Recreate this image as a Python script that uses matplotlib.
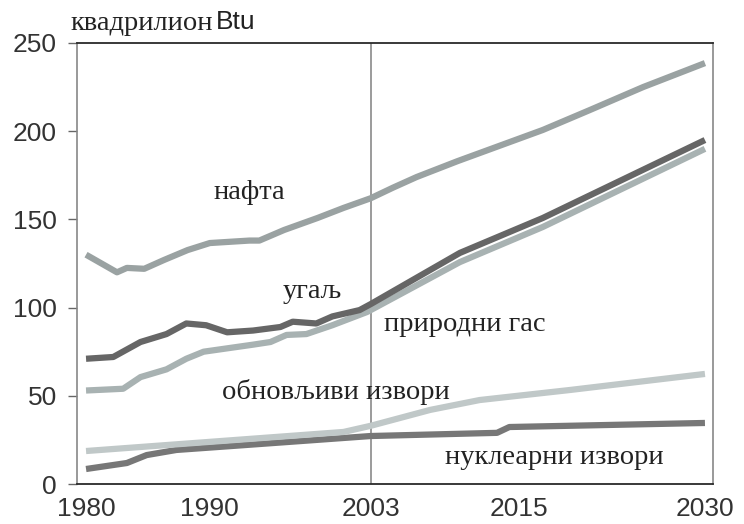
import matplotlib
matplotlib.use("Agg")
import matplotlib.pyplot as plt

# data (quadrillion Btu)
oil_years = [1980, 1982.5, 1983.3, 1984.7, 1986.3, 1988.2, 1990, 1993.2, 1994, 1996, 1998.7, 2000.8, 2003,
             2004.8, 2006.7, 2010, 2016.9, 2020.7, 2025, 2030]
oil = [130, 120, 122.5, 122, 127, 132.6, 136.6, 138, 138, 144, 150.8, 156.5, 162,
       168, 174, 183, 200.7, 212, 225, 238.6]

coal_years = [1980, 1982.2, 1984.4, 1986.5, 1988.1, 1989.7, 1991.4, 1993.5, 1995.7, 1996.7, 1998.6, 1999.9,
              2002.1, 2003, 2010.2, 2016.9, 2030]
coal = [71, 72, 80.5, 85, 91, 90, 86, 87, 89, 92, 91, 95, 98.6, 102, 131, 150.8, 195]

gas_years = [1980, 1983, 1984.4, 1986.5, 1988.1, 1989.5, 1993.5, 1994.9, 1996.2, 1997.8, 1999.9, 2002.7,
             2003, 2010.2, 2016.9, 2030]
gas = [53, 54, 60.6, 65, 71, 75, 79, 80.5, 84.5, 85, 90, 97.5, 98.6, 125.8, 145.7, 190]

renew_years = [1980, 2000.8, 2003, 2007.8, 2011.8, 2019.1, 2030]
renew = [18.7, 29.5, 33, 42, 47.6, 53.3, 62.4]

nuc_years = [1980, 1983.3, 1984.9, 1987.3, 1992.7, 2003, 2013.2, 2014.2, 2030]
nuclear = [8.5, 11.9, 16.4, 19.3, 22, 27.2, 29, 32.3, 34.6]

xticks = [1980, 1990, 2003, 2015, 2030]
yticks = [0, 50, 100, 150, 200, 250]

fig = plt.figure(figsize=(7.44, 5.24), dpi=100)
ax = fig.add_axes([77/744, 40/524, 636/744, 441/524])

lw = 4.5
style = dict(lw=lw, solid_capstyle="butt", solid_joinstyle="round")
ax.plot(nuc_years, nuclear, color="#777777", **style)
ax.plot(renew_years, renew, color="#c0c8c8", **style)
ax.plot(gas_years, gas, color="#a8b2b2", **style)
ax.plot(coal_years, coal, color="#666666", **style)
ax.plot(oil_years, oil, color="#9aa2a2", **style)

ax.axvline(2003, color="#8a8a8a", lw=1.2, zorder=0)

ax.set_xlim(1979.27, 2030.65)
ax.set_ylim(0, 250)
ax.set_xticks(xticks)
ax.set_yticks(yticks)

tickfont = {"family": "Liberation Sans", "size": 19, "color": "#333333"}
ax.set_xticklabels([str(t) for t in xticks], fontdict=tickfont)
ax.set_yticklabels([str(t) for t in yticks], fontdict=tickfont)
ax.tick_params(axis="x", length=0, pad=9.5)
ax.tick_params(axis="y", length=6.5, width=1, color="#666666", pad=8)

for s in ["left", "right"]:
    ax.spines[s].set_color("#888888")
    ax.spines[s].set_linewidth(1.2)
for s in ["top", "bottom"]:
    ax.spines[s].set_color("#2a2a2a")
    ax.spines[s].set_linewidth(1.3)

serif = {"family": "Liberation Serif", "size": 20.5, "color": "#222222"}
ax.text(1993.2, 165, "нафта", ha="center", va="center", fontdict=serif)
ax.text(1998.3, 109, "угаљ", ha="center", va="center", fontdict=serif)
ax.text(2004.1, 90.7, "природни гас", ha="left", va="center", fontdict=serif)
ax.text(1991, 52, "обновљиви извори", ha="left", va="center", fontdict=serif)
ax.text(2009, 15.3, "нуклеарни извори", ha="left", va="center", fontdict=serif)

fig.text(70/744, 1 - 23/524, "квадрилион", ha="left", va="center", fontdict=serif)
fig.text(216/744, 1 - 22/524, "Btu", ha="left", va="center",
         fontdict={"family": "Liberation Sans", "size": 19, "color": "#222222"})

fig.savefig("out.png", dpi=100)
